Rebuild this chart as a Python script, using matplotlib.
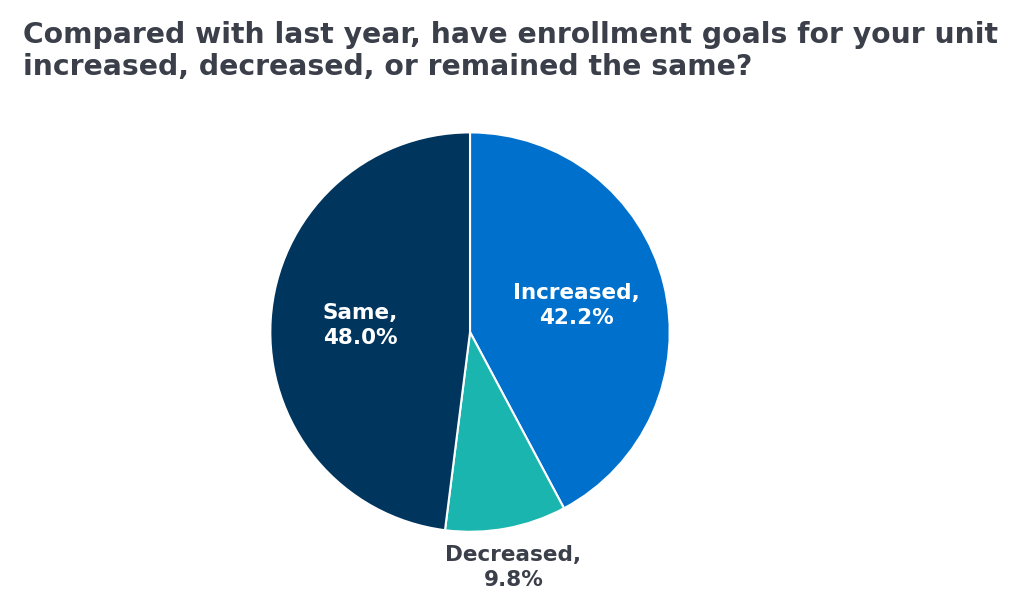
import matplotlib
matplotlib.use('Agg')
from matplotlib import pyplot as plt
import numpy as np

labels = ['Increased', 'Decreased', 'Same']
values = [42.2, 9.8, 48.0]
colors = ['#0070CD', '#1AB5AE', '#00355E']
text_colors = ['white', '#3A3F4A', 'white']

plt.rcParams['font.family'] = ['DejaVu Sans']

fig = plt.figure(figsize=(10.24, 6.06), dpi=100)
fig.text(0.022, 0.965, 'Compared with last year, have enrollment goals for your unit\n'
         'increased, decreased, or remained the same?',
         ha='left', va='top', fontsize=20.3, fontweight='bold', color='#3A3F4A',
         linespacing=1.15)

ax = fig.add_axes([0.264, 0.122, 0.39, 0.66])
wedges, _ = ax.pie(values, colors=colors, startangle=90, counterclock=False,
                   wedgeprops=dict(edgecolor='white', linewidth=1.5))
ax.set_xlim(-1, 1)
ax.set_ylim(-1, 1)
ax.set_aspect('equal')

# label positions as (radius fraction) per slice
radii = [0.55, 1.2, 0.55]
start = 90.0
for lab, v, r, tc in zip(labels, values, radii, text_colors):
    mid = np.deg2rad(start - v * 3.6 / 2)
    start -= v * 3.6
    ax.text(r * np.cos(mid), r * np.sin(mid), f'{lab},\n{v:.1f}%',
            ha='center', va='center', fontsize=15.5, fontweight='bold',
            color=tc, linespacing=1.3, clip_on=False)

fig.savefig('out.png', dpi=100)
